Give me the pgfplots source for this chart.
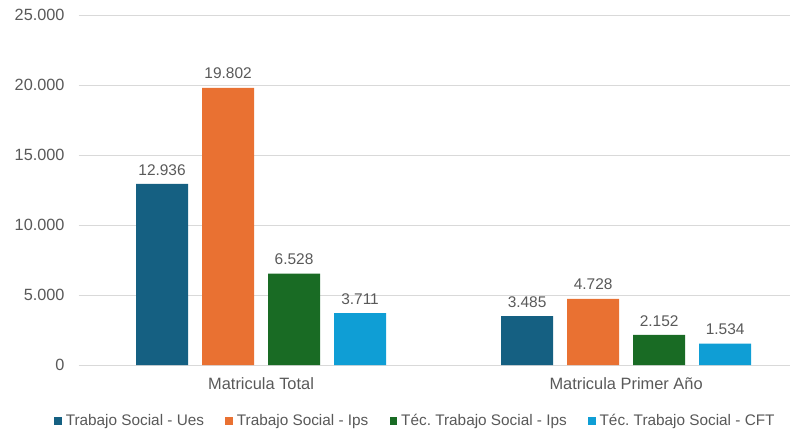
\documentclass[border=0pt]{standalone}
\usepackage{pgfplots}
\pgfplotsset{compat=1.18}
\usepackage{fontspec}
\setmainfont{Liberation Sans}
\frenchspacing
\definecolor{cblue}{HTML}{156082}
\definecolor{corange}{HTML}{E97132}
\definecolor{cgreen}{HTML}{196B24}
\definecolor{ccyan}{HTML}{0F9ED5}
\definecolor{txt}{HTML}{595959}
\definecolor{gridc}{HTML}{D9D9D9}
\begin{document}
\begin{tikzpicture}
\useasboundingbox (-58.9pt,-51pt) rectangle (539.6pt,273.75pt);
\begin{axis}[
  at={(0,0)}, anchor=south west,
  scale only axis,
  width=533.6pt, height=262.5pt,
  ybar=10.5pt, bar width=39pt,
  xmin=-0.5, xmax=1.449,
  ymin=0, ymax=25000,
  ytick={0,5000,10000,15000,20000,25000},
  xtick={0,1},
  xticklabels={Matricula Total, Matricula Primer Año},
  axis line style={draw=none},
  tick style={draw=none},
  ymajorgrids, xmajorgrids=false,
  grid style={gridc, line width=0.75pt},
  yticklabel style={text=txt, font=\fontsize{12.2pt}{14pt}\selectfont, xshift=-7pt},
  xticklabel style={text=txt, font=\fontsize{12.3pt}{14pt}\selectfont, yshift=-2pt},
  /pgf/number format/.cd, 1000 sep={.}, assume math mode=true,
  /pgfplots/.cd,
  scaled y ticks=false,
  nodes near coords,
  every node near coord/.append style={text=txt, font=\fontsize{11.6pt}{14pt}\selectfont, yshift=3pt},
  legend style={at={(0.474,-0.16)}, anchor=center, draw=none, legend columns=4,
    font=\fontsize{11.5pt}{14pt}\selectfont\frenchspacing, text=txt,
    /tikz/every odd column/.append style={column sep=1pt},
    /tikz/every even column/.append style={column sep=14pt}},
  legend image code/.code={\fill[#1] (0pt,-2.8pt) rectangle (5.6pt,2.8pt);},
]
\addplot[fill=cblue, draw=none] coordinates {(0,12936) (1,3485)};
\addplot[fill=corange, draw=none] coordinates {(0,19802) (1,4728)};
\addplot[fill=cgreen, draw=none] coordinates {(0,6528) (1,2152)};
\addplot[fill=ccyan, draw=none] coordinates {(0,3711) (1,1534)};
\legend{Trabajo Social - Ues, Trabajo Social - Ips, Téc. Trabajo Social - Ips, Téc. Trabajo Social - CFT}
\end{axis}
\end{tikzpicture}
\end{document}
